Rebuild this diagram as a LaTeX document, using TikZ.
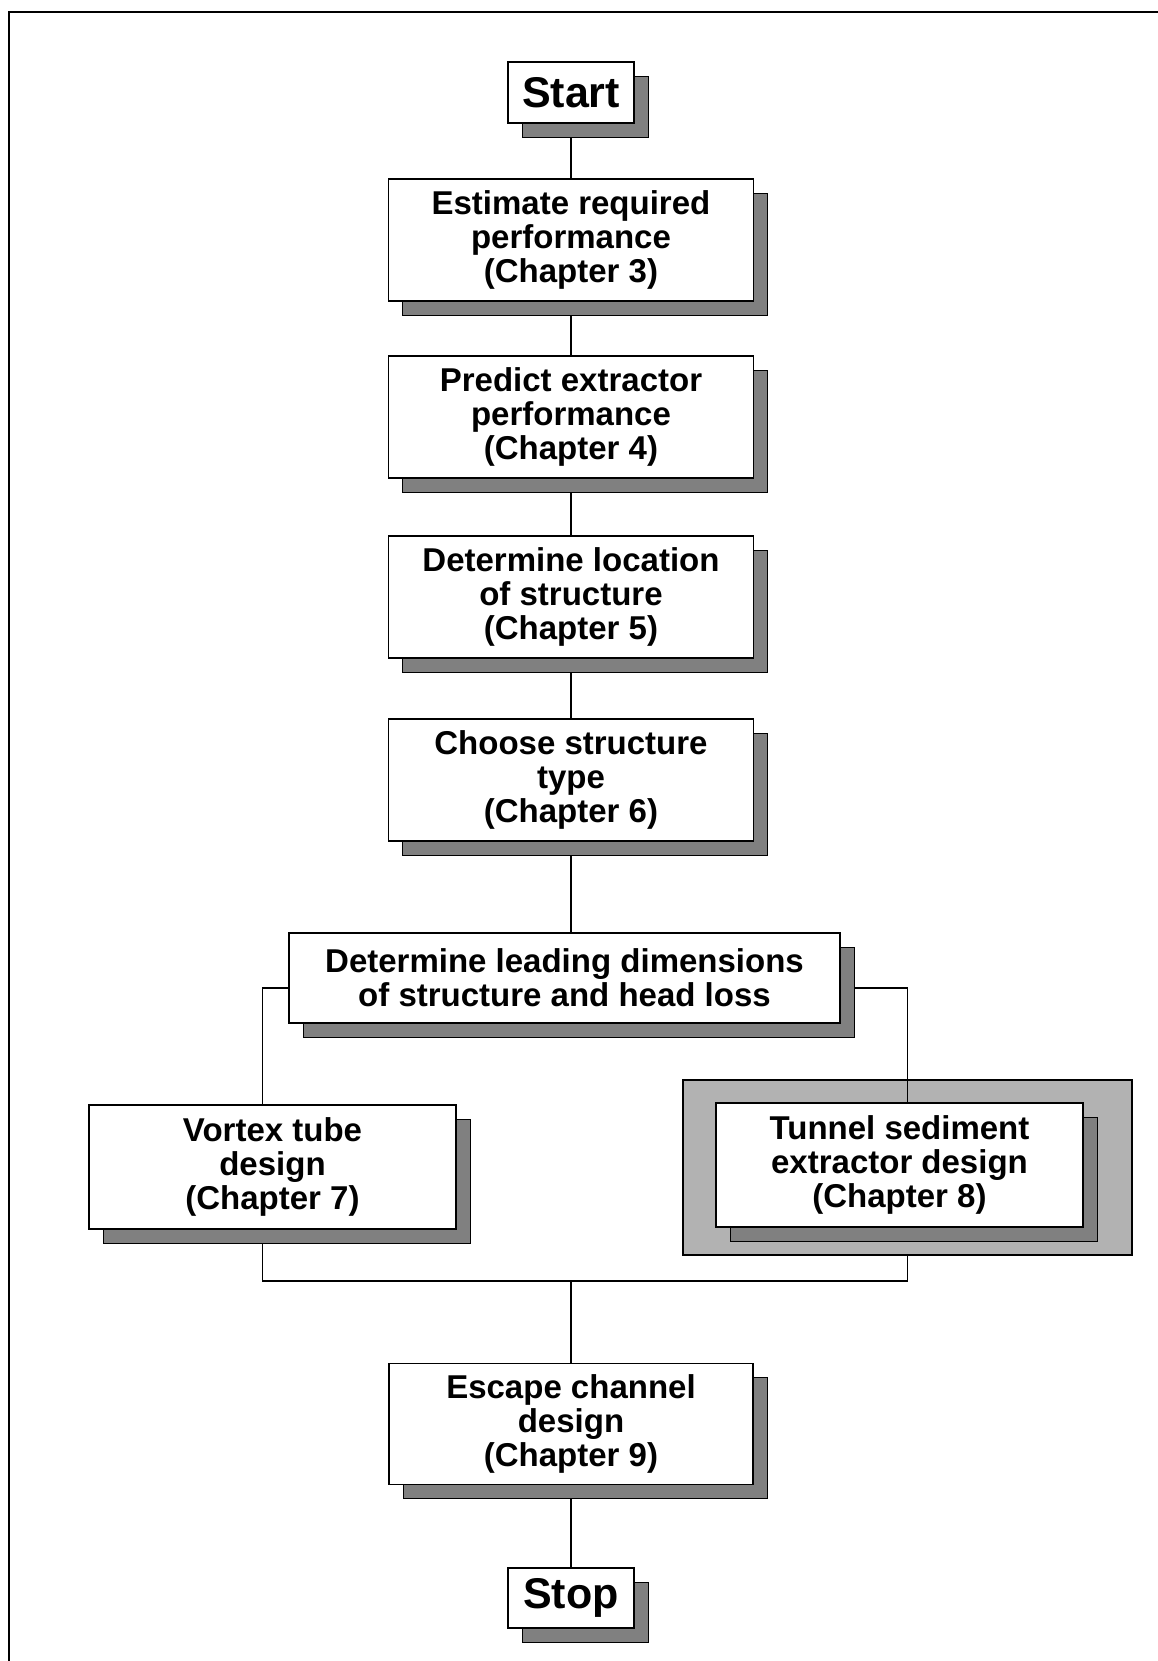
\documentclass[tikz,border=0pt]{standalone}
\usepackage{fontspec}
\setmainfont{Liberation Sans}
\usetikzlibrary{shadows,backgrounds}
\tikzset{
  box/.style={draw, line width=1.4pt, fill=white, align=center, inner sep=0pt,
    font=\bfseries\fontsize{33}{34}\selectfont,
    drop shadow={shadow xshift=14pt, shadow yshift=-14pt, fill=black!50, draw=black, line width=0.8pt, opacity=1}},
  termbox/.style={box, font=\bfseries\fontsize{43}{45}\selectfont, minimum width=126pt, minimum height=61pt},
  stdbox/.style={box, minimum width=365pt, minimum height=122pt},
  conn/.style={draw, line width=1.2pt},
  outerframe/.style={draw, line width=1.4pt, fill=black!30, inner sep=0pt}
}
\begin{document}
\begin{tikzpicture}[x=1pt,y=-1pt]
\useasboundingbox (0,0) rectangle (1158,1661);
% page frame
\draw[line width=2pt] (1158,12) -- (9,12) -- (9,1661);

\node[termbox] (start) at (571,92.5) {Start};
\node[stdbox] (est) at (571,240) {Estimate required\\performance\\(Chapter 3)};
\node[stdbox] (pred) at (571,417) {Predict extractor\\performance\\(Chapter 4)};
\node[stdbox] (loc) at (571,597) {Determine location\\of structure\\(Chapter 5)};
\node[stdbox] (choose) at (571,780) {Choose structure\\type\\(Chapter 6)};
\node[box, minimum width=551pt, minimum height=90pt] (lead) at (564.5,978) {Determine leading dimensions\\of structure and head loss};
\node[stdbox, minimum width=367pt, minimum height=124pt] (vortex) at (272.5,1167) {Vortex tube\\design\\(Chapter 7)};
\node[outerframe, minimum width=449pt, minimum height=175pt] (tframe) at (907.5,1167.5) {};
\node[stdbox, minimum width=367pt, minimum height=124pt] (tunnel) at (899.5,1165) {Tunnel sediment\\extractor design\\(Chapter 8)};
\node[stdbox, minimum width=364pt, minimum height=121pt] (escape) at (571,1424) {Escape channel\\design\\(Chapter 9)};
\node[termbox, minimum height=60pt] (stop) at (571,1598) {Stop};

\coordinate (join) at (571,1281);

\draw[conn] (tframe.north) -- (tframe.center |- tunnel.north);

\begin{scope}[on background layer]
\fill[white] (0,0) rectangle (1158,1661);
\draw[conn] (start.south) -- (est.north);
\draw[conn] (est.south) -- (pred.north);
\draw[conn] (pred.south) -- (loc.north);
\draw[conn] (loc.south) -- (choose.north);
\draw[conn] (choose.south) -- (choose.south |- lead.north);
\draw[conn] ([yshift=-10pt]lead.west) -| ([xshift=-10pt]vortex.north);
\draw[conn] ([yshift=-10pt]lead.east) -| (tframe.north);
\draw[conn] ([xshift=-10pt]vortex.south) |- (join) -| (tframe.south);
\draw[conn] (join) -- (escape.north);
\draw[conn] (escape.south) -- (stop.north);
\end{scope}
\end{tikzpicture}
\end{document}
